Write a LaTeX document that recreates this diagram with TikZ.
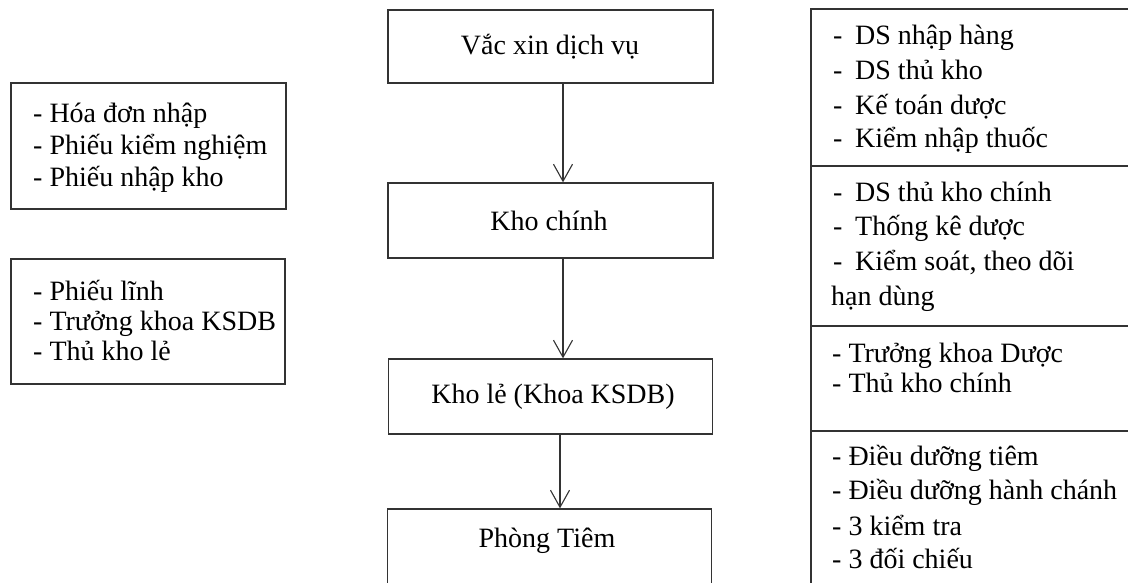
\documentclass[tikz,border=0pt]{standalone}
\usepackage{fontspec}
\setmainfont{Liberation Serif}
\usetikzlibrary{arrows.meta}
\tikzset{
  box/.style={draw=black!80, line width=1.3pt, inner sep=0pt},
  frame/.style={draw=black!80, line width=1.3pt},
  txt/.style={anchor=base west, inner sep=0pt, font=\fontsize{28}{32}\selectfont, text=black},
  ctxt/.style={anchor=base, inner sep=0pt, font=\fontsize{28}{32}\selectfont, text=black},
  arr/.style={draw=black!80, line width=1.1pt, -{Straight Barb[length=17pt,width=19pt,line width=1.1pt]}}
}
\newcommand{\dsh}{\makebox[22pt][l]{-}}
\begin{document}
\begin{tikzpicture}[x=1pt,y=-1pt]
\useasboundingbox (0,0) rectangle (1128,583);
\clip (0,0) rectangle (1128,583);
\fill[white] (0,0) rectangle (1128,583);

% central flow boxes
\node[box, minimum width=325pt, minimum height=73pt] (v) at (550.5,46.5) {};
\node[box, minimum width=325pt, minimum height=75pt] (k) at (550.5,220.5) {};
\node[box, minimum width=324pt, minimum height=75pt] (kl) at (550.5,396.5) {};
\node[box, minimum width=324pt, minimum height=100pt] (pt) at (549.5,559) {};

\node[ctxt] (vt) at (550,55) {Vắc xin dịch vụ};
\node[ctxt] (kt) at (549,230) {Kho chính};
\node[ctxt] (klt) at (553,403) {Kho lẻ (Khoa KSDB)};
\node[ctxt] (ptt) at (547,547) {Phòng Tiêm};

\coordinate (ax1) at (563,0);
\coordinate (ax2) at (560,0);
\draw[arr] (v.south -| ax1) -- (k.north -| ax1);
\draw[arr] (k.south -| ax1) -- (kl.north -| ax1);
\draw[arr] (kl.south -| ax2) -- (pt.north -| ax2);

% left boxes
\node[box, minimum width=275pt, minimum height=126pt] (lb1) at (148.5,146) {};
\node[box, minimum width=274pt, minimum height=125pt] (lb2) at (148,321.5) {};
\node[txt] (l11) at (33,123) {- Hóa đơn nhập};
\node[txt] (l12) at (33,155) {- Phiếu kiểm nghiệm};
\node[txt] (l13) at (33,187) {- Phiếu nhập kho};
\node[txt] (l21) at (33,300) {- Phiếu lĩnh};
\node[txt] (l22) at (33,330) {- Trưởng khoa KSDB};
\node[txt] (l23) at (33,360) {- Thủ kho lẻ};

% right column
\draw[frame] (811,610) -- (811,9) -- (1140,9);
\draw[frame] (811,166) -- (1140,166);
\draw[frame] (811,326) -- (1140,326);
\draw[frame] (811,431) -- (1140,431);

\node[txt] (r11) at (833,45) {\dsh DS nhập hàng};
\node[txt] (r12) at (833,80) {\dsh DS thủ kho};
\node[txt] (r13) at (833,115) {\dsh Kế toán dược};
\node[txt] (r14) at (833,148) {\dsh Kiểm nhập thuốc};

\node[txt] (r21) at (833,201) {\dsh DS thủ kho chính};
\node[txt] (r22) at (833,235) {\dsh Thống kê dược};
\node[txt] (r23) at (833,270) {\dsh Kiểm soát, theo dõi};
\node[txt] (r24) at (831,305) {hạn dùng};

\node[txt] (r31) at (832,362) {- Trưởng khoa Dược};
\node[txt] (r32) at (832,392) {- Thủ kho chính};

\node[txt] (r41) at (832,465) {- Điều dưỡng tiêm};
\node[txt] (r42) at (832,499) {- Điều dưỡng hành chánh};
\node[txt] (r43) at (832,535) {- 3 kiểm tra};
\node[txt] (r44) at (832,568) {- 3 đối chiếu};
\end{tikzpicture}
\end{document}
